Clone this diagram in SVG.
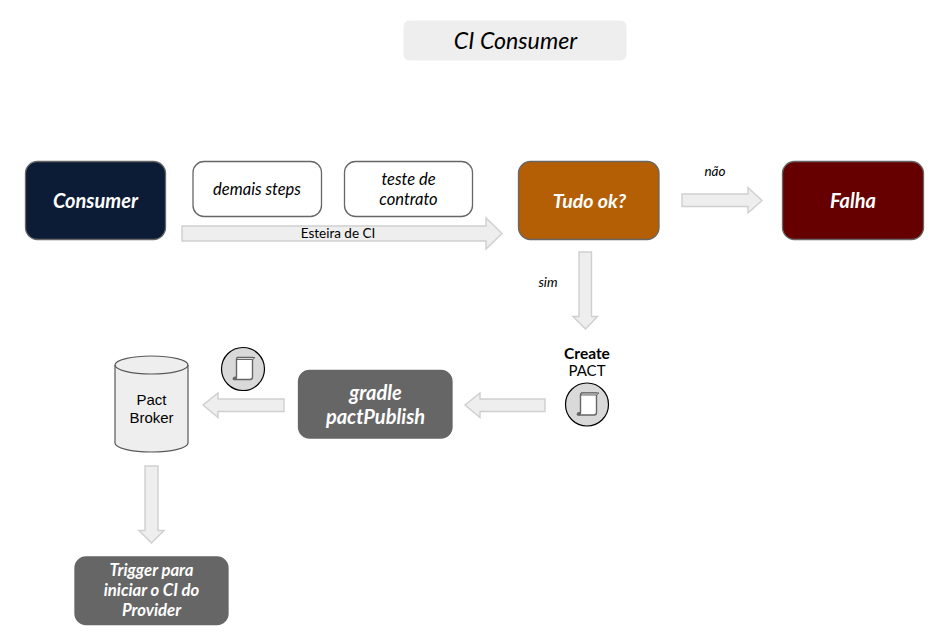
<svg xmlns="http://www.w3.org/2000/svg" xmlns:xlink="http://www.w3.org/1999/xlink" width="941" height="642" viewBox="0 0 941 642">
<style>
text{font-family:Lato,"Liberation Sans",sans-serif;text-anchor:middle;fill:#000}
.arrow{fill:#eeeeee;stroke:#cfcfcf;stroke-width:1.4}
.box{stroke:#666666;stroke-width:1.3}
.wt{fill:#fff;font-style:italic;font-weight:700;font-size:20px}
.bk{font-style:italic;font-size:16.500px}
.sm{font-style:italic;font-size:13.500px}
.tr{font-size:16.700px}
.ar{font-family:"Liberation Sans",Arial,sans-serif;font-size:15px}
</style>
<defs>
<g id="scroll">
<circle cx="0" cy="0" r="21.500" fill="#d9d9d9" stroke="#000" stroke-width="1.200"/>
<path d="M-6 -11.500H9.500V8Q9.500 10.500 7 10.500H-9Q-6.500 10 -6.500 8V-9.500Q-6.500 -11.500 -4 -11.500Z" fill="#fff" stroke="#666666" stroke-width="1.400"/>
<path d="M-6 -11.500H12L9.500 -9.500H-6Z" fill="#d9d9d9" stroke="#666666" stroke-width="1"/>
<path d="M-10 10.500Q-10.500 7.500 -7 8V10.500Z" fill="#666666" stroke="#666666"/>
</g>
</defs>
<rect width="941" height="642" fill="#fff"/>
<g id="title"><rect x="403.500" y="20.500" width="223" height="40" rx="6" fill="#eeeeee"/><text x="515.500" y="48.500" font-size="23.200" font-style="italic">CI Consumer</text></g>
<g id="connectors">
<path class="arrow" d="M182 226H486V218L502 233.500L486 249V241H182Z"/>
<path class="arrow" d="M682 194H748V187.500L762 200.500L748 213V206.500H682Z"/>
<path class="arrow" d="M579 252H591.500V316.500H597.500L585.500 329L573 316.500H579Z"/>
<path class="arrow" d="M545 399V411.500H480V417.500L465 405L480 393V399Z"/>
<path class="arrow" d="M284 399V411.500H218V417.500L203 405L218 393V399Z"/>
<path class="arrow" d="M145 466H158V530.500H164L151.500 543L139 530.500H145Z"/>
<text x="338" y="237.500" font-size="13.500">Esteira de CI</text>
<text class="sm" x="715" y="176">não</text>
<text class="sm" x="548" y="287">sim</text>
</g>
<g id="consumer"><rect class="box" x="25.500" y="161.500" width="140" height="78" rx="12" fill="#0c1c36"/><text class="wt" x="95.500" y="207.500">Consumer</text></g>
<g id="demais-steps"><rect class="box" x="193" y="161.500" width="128.500" height="55" rx="11" fill="#fff"/><text class="bk" x="257" y="195">demais steps</text></g>
<g id="teste-de-contrato"><rect class="box" x="344.500" y="161.500" width="128" height="55" rx="11" fill="#fff"/><text class="bk" x="408.500" y="185">teste de</text><text class="bk" x="408.500" y="205">contrato</text></g>
<g id="tudo-ok"><rect class="box" x="518.500" y="161.500" width="140.500" height="78" rx="12" fill="#b45f06"/><text class="wt" x="589.500" y="207.500" style="font-size:19.500px">Tudo ok?</text></g>
<g id="falha"><rect class="box" x="782.500" y="161.500" width="141" height="78" rx="12" fill="#660000"/><text class="wt" x="853" y="207.500">Falha</text></g>
<g id="create-pact">
<text x="587" y="359" font-size="15.500" font-weight="700">Create</text><text x="587" y="376" font-size="15">PACT</text>
<use xlink:href="#scroll" href="#scroll" x="587" y="404.500"/>
</g>
<g id="gradle-pactpublish"><rect class="box" x="298.500" y="370.500" width="153.500" height="67.500" rx="11" fill="#666666"/><text class="wt" x="375.500" y="400">gradle</text><text class="wt" x="375.500" y="424">pactPublish</text></g>
<g id="pact-icon"><use xlink:href="#scroll" href="#scroll" x="243" y="369"/></g>
<g id="pact-broker">
<path d="M115 365A36.500 9 0 0 1 188 365V443A36.500 9 0 0 1 115 443Z" fill="#eeeeee" stroke="#595959" stroke-width="1.200"/>
<path d="M115 365A36.500 9 0 0 0 188 365" fill="none" stroke="#595959" stroke-width="1.200"/>
<text class="ar" x="151.500" y="405">Pact</text><text class="ar" x="151.500" y="423">Broker</text>
</g>
<g id="trigger"><rect class="box" x="75" y="557" width="153" height="67.500" rx="11" fill="#666666"/>
<text class="wt tr" x="151.500" y="576" style="font-size:16.700px">Trigger para</text><text class="wt tr" x="151.500" y="596" style="font-size:16.700px">iniciar o CI do</text><text class="wt tr" x="151.500" y="616" style="font-size:16.700px">Provider</text></g>
</svg>
